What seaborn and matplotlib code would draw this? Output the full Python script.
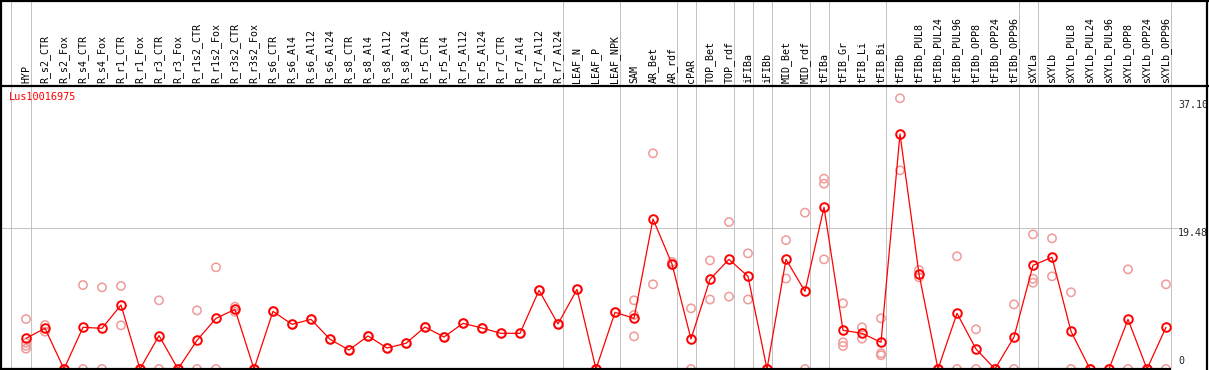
import numpy as np
import pandas as pd
import matplotlib
matplotlib.use("Agg")
import matplotlib.pyplot as plt
import seaborn as sns

# ---------------- data ----------------
categories = [
    "HYP", "R_s2_CTR", "R_s2_Fox", "R_s4_CTR", "R_s4_Fox", "R_r1_CTR", "R_r1_Fox",
    "R_r3_CTR", "R_r3_Fox", "R_r1s2_CTR", "R_r1s2_Fox", "R_r3s2_CTR", "R_r3s2_Fox",
    "R_s6_CTR", "R_s6_Al4", "R_s6_Al12", "R_s6_Al24", "R_s8_CTR", "R_s8_Al4",
    "R_s8_Al12", "R_s8_Al24", "R_r5_CTR", "R_r5_Al4", "R_r5_Al12", "R_r5_Al24",
    "R_r7_CTR", "R_r7_Al4", "R_r7_Al12", "R_r7_Al24", "LEAF_N", "LEAF_P", "LEAF_NPK",
    "SAM", "AR_Bet", "AR_rdf", "cPAR", "TOP_Bet", "TOP_rdf", "iFIBa", "iFIBb",
    "MID_Bet", "MID_rdf", "tFIBa", "tFIB_Gr", "tFIB_Li", "tFIB_Bi", "tFIBb",
    "tFIBb_PUL8", "tFIBb_PUL24", "tFIBb_PUL96", "tFIBb_OPP8", "tFIBb_OPP24", "tFIBb_OPP96",
    "sXYLa", "sXYLb", "sXYLb_PUL8", "sXYLb_PUL24", "sXYLb_PUL96", "sXYLb_OPP8",
    "sXYLb_OPP24", "sXYLb_OPP96",
]

means = [
    4.24, 5.62, 0.0, 5.76, 5.62, 8.84, 0.0, 4.61, 0.0, 3.96, 7.00, 8.24, 0.0,
    7.97, 6.17, 6.86, 4.10, 2.62, 4.56, 2.90, 3.55, 5.80, 4.42, 6.31, 5.66,
    4.93, 4.93, 10.87, 6.22, 11.00, 0.0, 7.83,
    7.00, 20.72, 14.50, 4.14, 12.39, 15.15, 12.80, 0.0,
    15.15, 10.73, 22.34, 5.35, 4.93, 3.69, 32.47,
    13.12, 0.0, 7.69, 2.76, 0.0, 4.42,
    14.32, 15.43, 5.20, 0.0, 0.0, 6.86, 0.0, 5.76,
]

replicates = [
    [6.9, 3.6, 3.2, 2.8], [6.08, 5.16], [0, 0], [11.6, 0], [11.28, 0], [11.47, 6.03], [0, 0],
    [9.49, 0], [0, 0], [8.1, 0], [14.05, 0], [8.6, 7.9], [0, 0],
    [7.97], [6.17], [6.86], [4.10], [2.62], [4.56], [2.90], [3.55], [5.80], [4.42], [6.31], [5.66],
    [4.93], [4.93], [10.87], [6.22], [11.0], [0, 0], [7.83],
    [9.49, 7.46, 4.51], [29.8, 11.7], [14.8, 14.4], [8.38, 0], [15.0, 9.6], [20.3, 10.0],
    [15.98, 9.6], [0, 0],
    [17.8, 12.5], [21.6, 0], [26.3, 25.6, 15.15], [9.08, 3.69, 3.18], [5.76, 4.19],
    [7.0, 2.17, 1.9], [37.4, 27.45],
    [13.68, 12.67], [0, 0], [15.57, 0], [5.48, 0], [0, 0], [8.93, 0],
    [18.6, 12.47, 11.92], [18.05, 12.8], [10.6, 0], [0, 0], [0, 0], [13.77, 0], [0, 0], [11.7, 0],
]

group_breaks = [0, 28, 31, 34, 35, 37, 38, 39, 41, 42, 45, 52, 53, 60]
y_labels = [37.10, 19.48, 0]
gene_name = "Lus10016975"

# ---------------- layout helpers (pixel -> data) ----------------
W, H = 1209, 370
X0, DX = 26.0, 19.0            # pixel x of first category, spacing
Y0, DY = 369.0, 141.0 / 19.48  # pixel y of value 0, pixels per unit


def px_x(p):
    return (p - X0) / DX


def px_y(p):
    return (Y0 - p) / DY


mean_df = pd.DataFrame({"pos": np.arange(len(categories)), "value": means})
rep_df = pd.DataFrame(
    [(i, v) for i, reps in enumerate(replicates) for v in reps], columns=["pos", "value"]
)

sns.set_theme(style="white")
plt.rcParams["font.family"] = ["DejaVu Sans Mono", "DejaVu Sans"]

fig = plt.figure(figsize=(W / 100, H / 100), dpi=100)
ax = fig.add_axes([0, 0, 1, 1])
ax.set_xlim(px_x(0), px_x(W))
ax.set_ylim(px_y(H), px_y(0))
ax.axis("off")

gray = "#c4c4c4"
lw1 = 0.72
# separators
ax.vlines([px_x(11)] + [b + 0.25 for b in group_breaks], 0, px_y(0), color=gray, lw=lw1, zorder=1)
# horizontal grid at 19.48
ax.hlines(y_labels[1], px_x(0), px_x(1178), color=gray, lw=lw1, zorder=1)

# black frame lines
blk = dict(color="black", lw=1.6, zorder=5, solid_capstyle="butt")
ax.plot([px_x(0), px_x(W)], [px_y(0.6), px_y(0.6)], **blk)
ax.plot([px_x(0), px_x(W)], [px_y(85.7), px_y(85.7)], **blk)
ax.plot([px_x(1.5), px_x(1.5)], [px_y(0), px_y(H)], **blk)
ax.plot([px_x(1207.2), px_x(1207.2)], [px_y(0), px_y(H)], **blk)
ax.plot([px_x(0), px_x(1170.5)], [0, 0], **blk)

# replicates
sns.scatterplot(data=rep_df, x="pos", y="value", marker="o", s=36,
                facecolors="none", edgecolors="#f09a9a", linewidths=1.1,
                ax=ax, zorder=3, legend=False)
# mean line
sns.lineplot(data=mean_df, x="pos", y="value", color="#ff0000", lw=0.9, sort=False,
             estimator=None, marker="o", markersize=6.2, markerfacecolor="none",
             markeredgecolor="#ff0000", markeredgewidth=1.4, ax=ax, zorder=4, legend=False)

# header labels
for i, c in enumerate(categories):
    ax.text(i, px_y(83), c, rotation=90, ha="center", va="bottom", fontsize=7.2, color="black")

# gene name
ax.text(px_x(9), px_y(97), gene_name, ha="left", va="center", fontsize=7.4, color="#ff0000")

# right-hand value labels
ax.text(px_x(1178), y_labels[0], f"{y_labels[0]:.2f}", ha="left", va="top", fontsize=7.2)
ax.text(px_x(1178), y_labels[1], f"{y_labels[1]:.2f}", ha="left", va="top", fontsize=7.2)
ax.text(px_x(1178), px_y(366), f"{y_labels[2]:g}", ha="left", va="bottom", fontsize=7.2)

fig.savefig("out.png", dpi=100)
